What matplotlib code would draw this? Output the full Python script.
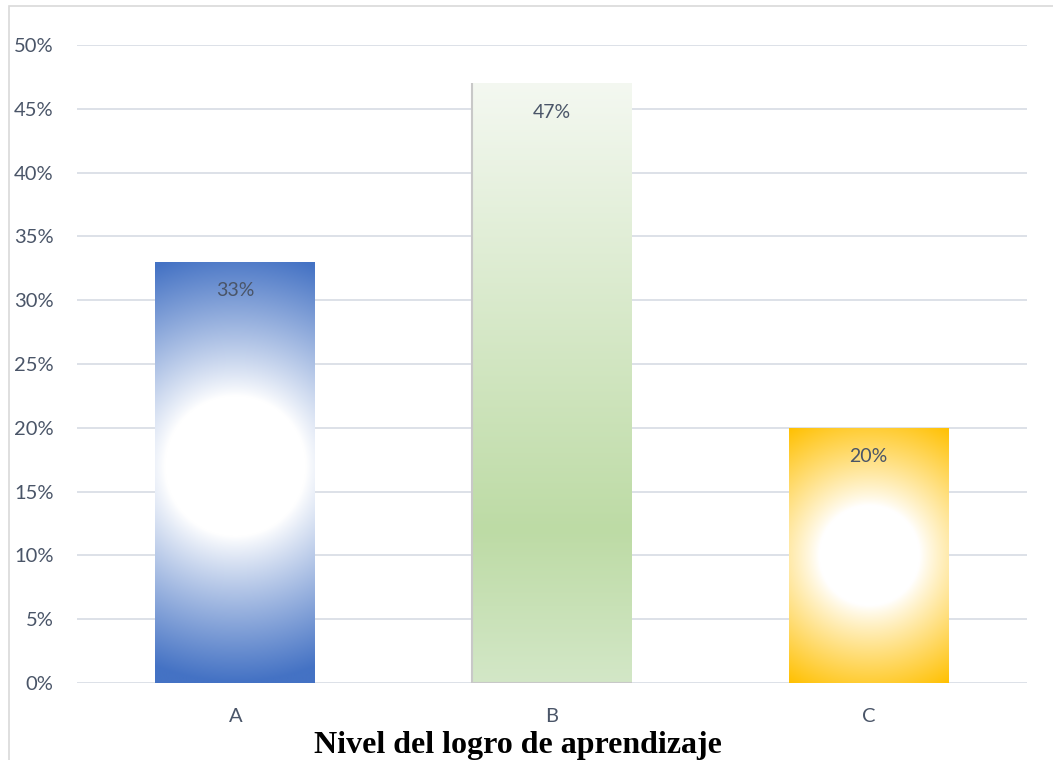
import numpy as np
import matplotlib
matplotlib.use("Agg")
import matplotlib.pyplot as plt
from matplotlib.ticker import PercentFormatter
from matplotlib.patches import Rectangle

# datos del gráfico
niveles = ["A", "B", "C"]
porcentajes = [0.33, 0.47, 0.20]
yticks = [0.0, 0.05, 0.10, 0.15, 0.20, 0.25, 0.30, 0.35, 0.40, 0.45, 0.50]

W, H = 1053, 760
fig = plt.figure(figsize=(W / 100, H / 100), dpi=100)
ax = fig.add_axes([77 / W, (H - 683) / H, (1027 - 77) / W, (683 - 45) / H])

texto = "#4A5568"
ancho = 0.505

ax.set_xlim(-0.5, 2.5)
ax.set_ylim(0, 0.5)
ax.set_yticks(yticks)
ax.yaxis.set_major_formatter(PercentFormatter(1.0, decimals=0))
ax.grid(axis="y", color="#DDE1E8", lw=1.4)
ax.set_axisbelow(True)
for s in ax.spines.values():
    s.set_visible(False)
ax.tick_params(length=0, labelsize=14.5, labelcolor=texto)
ax.tick_params(axis="y", pad=17)
ax.tick_params(axis="x", pad=18)

# escala en pixeles por unidad de datos
px_x = (1027 - 77) / 3.0
px_y = (683 - 45) / 0.5


def radial(val, col, cy, r0, r1):
    w = int(ancho * px_x)
    h = max(int(val * px_y), 2)
    yy, xx = np.mgrid[0:h, 0:w]
    ypix = (h - yy)  # distancia desde la base en pixeles
    d = np.hypot(xx - w / 2, ypix - cy * px_y)
    t = np.clip((d - r0) / (r1 - r0), 0, 1) ** 0.9
    c = np.array(matplotlib.colors.to_rgb(col))
    img = (1 - t)[..., None] * np.ones(3) + t[..., None] * c
    return img


def lineal(val):
    h = max(int(val * px_y), 2)
    w = int(ancho * px_x)
    yv = np.linspace(val, 0, h)
    stops = [0.0, 0.12, val]
    cols = [matplotlib.colors.to_rgb(c) for c in ["#D3E7C7", "#BDDBA5", "#F4F8F1"]]
    img = np.zeros((h, w, 3))
    for k in range(3):
        ch = np.interp(yv, stops, [c[k] for c in cols])
        img[:, :, k] = ch[:, None]
    return img


x = np.arange(len(niveles))
barras = ax.bar(x, porcentajes, width=ancho, color="none", zorder=2)
imgs = [
    radial(porcentajes[0], "#4472C4", 0.17, 70, 215),
    lineal(porcentajes[1]),
    radial(porcentajes[2], "#FFC000", 0.10, 50, 150),
]
for b, img in zip(barras, imgs):
    x0, y0 = b.get_x(), b.get_y()
    im = ax.imshow(img, extent=[x0, x0 + b.get_width(), y0, y0 + b.get_height()],
                   aspect="auto", zorder=2, interpolation="bilinear")
    im.set_clip_path(b)

# sombra suave de la barra B (izquierda y base)
b = barras[1]
bx0, bx1, bh = b.get_x(), b.get_x() + b.get_width(), b.get_height()
ax.plot([bx0, bx0, bx1], [bh, 0, 0], color="#C8C8C8", lw=1.5, zorder=3,
        solid_capstyle="butt")

ax.set_xlim(-0.5, 2.5)
ax.set_ylim(0, 0.5)
ax.set_xticks(x)
ax.set_xticklabels(niveles)
for lab in ax.get_xticklabels() + ax.get_yticklabels():
    lab.set_family("Lato")

for i, v in enumerate(porcentajes):
    ax.text(i, v - 0.016, f"{v:.0%}", ha="center", va="top", fontsize=14,
            color=texto, family="Lato", zorder=4)

fig.text(518 / W, 1 - 745 / H, "Nivel del logro de aprendizaje", ha="center", va="center",
         fontsize=23, fontweight="bold", family="Liberation Serif", color="black")

# marco del gráfico
fig.patches.append(Rectangle((9 / W, -0.01), 1.0, 1 - 6 / H + 0.01, transform=fig.transFigure,
                             fill=False, edgecolor="#D9D9D9", lw=1.2))

fig.savefig("out.png", dpi=100)
